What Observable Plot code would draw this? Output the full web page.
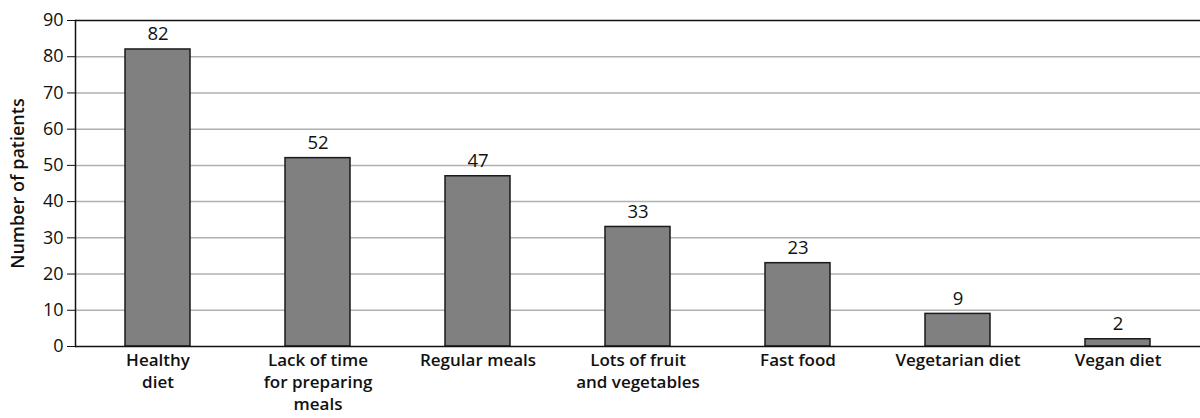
<!DOCTYPE html>
<html>
<head>
<meta charset="utf-8">
<script src="https://cdn.jsdelivr.net/npm/d3@7"></script>
<script src="https://cdn.jsdelivr.net/npm/@observablehq/plot@0.6"></script>
<style>
  html, body { margin: 0; padding: 0; background: #fff; }
  #chart svg { display: block; }
</style>
</head>
<body>
<div id="chart"></div>
<script>
const categories = ["Healthy diet", "Lack of time for preparing meals", "Regular meals", "Lots of fruit and vegetables", "Fast food", "Vegetarian diet", "Vegan diet"];
const tickLabels = ["Healthy\ndiet", "Lack of time\nfor preparing\nmeals", "Regular meals", "Lots of fruit\nand vegetables", "Fast food", "Vegetarian diet", "Vegan diet"];
const patients = [82, 52, 47, 33, 23, 9, 2];
const yTicks = [0, 10, 20, 30, 40, 50, 60, 70, 80, 90];
const gridTicks = [10, 20, 30, 40, 50, 60, 70, 80];

const data = categories.map((c, i) => ({category: c, value: patients[i]}));
const labelOf = new Map(categories.map((c, i) => [c, tickLabels[i]]));

const chart = Plot.plot({
  width: 1200,
  height: 418,
  marginLeft: 75,
  marginRight: 0,
  marginTop: 20,
  marginBottom: 72,
  style: {fontFamily: "'Open Sans', sans-serif", background: "#fff", color: "#111"},
  x: {domain: categories, paddingInner: 0.595, paddingOuter: 0.2975, align: 0.5},
  y: {domain: [0, 90]},
  marks: [
    Plot.ruleY(gridTicks, {stroke: "#b0b0b0", strokeWidth: 1.5}),
    Plot.ruleY([90], {stroke: "#111", strokeWidth: 1.5}),
    Plot.barY(data, {x: "category", y: "value", fill: "#808080", stroke: "#1a1a1a", strokeWidth: 1.5}),
    Plot.text(data, {x: "category", y: "value", text: d => String(d.value), dy: -9, lineAnchor: "bottom", fontSize: 18.5, fill: "#111"}),
    Plot.ruleY([0], {stroke: "#111", strokeWidth: 1.5}),
    Plot.axisY({
      ticks: yTicks, tickSize: 8, tickPadding: 4, fontSize: 18, stroke: "#111",
      label: "Number of patients", labelAnchor: "center", labelArrow: "none", labelOffset: 64
    }),
    Plot.frame({anchor: "left", stroke: "#111", strokeWidth: 1.5}),
    Plot.axisX({
      tickSize: 0, tickPadding: 4, fontSize: 17, fontWeight: 600, lineHeight: 1.3,
      tickFormat: d => labelOf.get(d), label: null
    })
  ]
});
// make the y-axis title bold and sized like the reference
chart.querySelectorAll("[aria-label='y-axis label'] text, [aria-label='y-axis label']").forEach(el => {
  el.setAttribute("font-size", 18);
  el.setAttribute("font-weight", 600);
});
document.getElementById("chart").appendChild(chart);
</script>
</body>
</html>
